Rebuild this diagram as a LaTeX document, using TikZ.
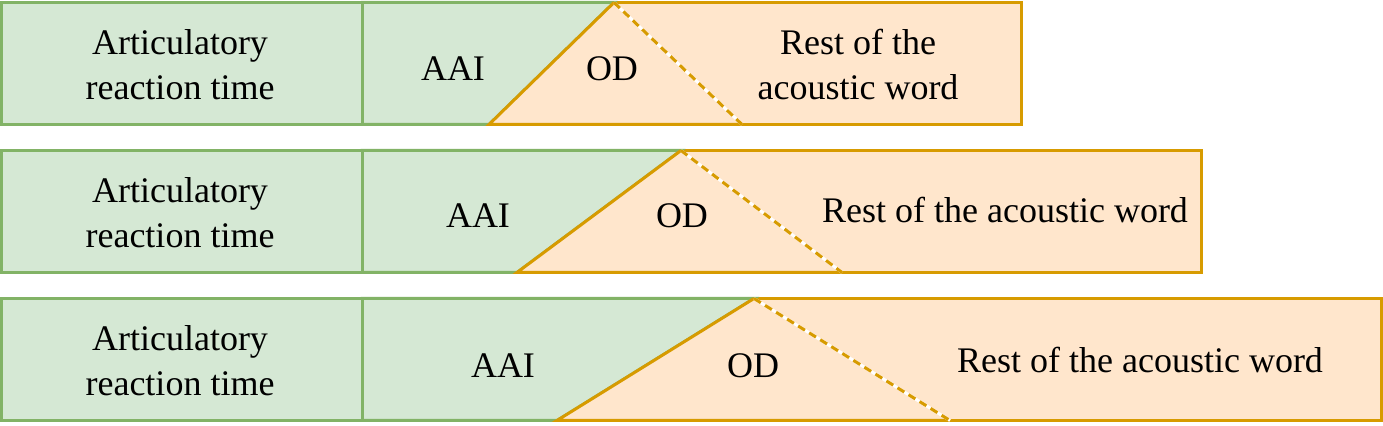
\documentclass[tikz,border=0pt]{standalone}
\usepackage{fontspec}
\setmainfont{Liberation Serif}
\definecolor{greenfill}{HTML}{D5E8D4}
\definecolor{greenline}{HTML}{82B366}
\definecolor{orangefill}{HTML}{FFE6CC}
\definecolor{orangeline}{HTML}{D79B00}

\begin{document}
\begin{tikzpicture}[x=0.5pt,y=-0.5pt,line width=1.5pt,
  green part/.style={fill=greenfill,draw=greenline},
  orange part/.style={fill=orangefill,draw=orangeline},
  od edge/.style={draw=orangeline,dash pattern=on 4pt off 2.5pt},
  word/.style={font=\fontsize{18}{22.5}\selectfont,align=center,inner sep=0pt}]

  \useasboundingbox (0,0) rectangle (1383,426);

  % first row
  \coordinate (apex1) at (614,2.5);
  \coordinate (left1) at (489,124.5);
  \coordinate (right1) at (742,124.5);
  \draw[orange part] (apex1) rectangle (1021,124.5);
  \draw[green part] (362,2.5) -- (apex1) -- (left1) -- (362,124.5) -- cycle;
  \draw[green part] (1.5,2.5) rectangle (362,124.5);
  \fill[orangefill] (apex1) -- (left1) -- (right1) -- cycle;
  \draw[orangeline] (apex1) -- (left1) -- (right1);
  \draw[white] (apex1) -- (right1);
  \draw[od edge] (apex1) -- (right1);

  \node[word] (art1)  at (180,64.5) {Articulatory\\reaction time};
  \node[word] (aai1)  at (453,69) {AAI};
  \node[word] (od1)   at (612,69) {OD};
  \node[word] (rest1) at (858,64.5) {Rest of the\\acoustic word};

  % second row
  \coordinate (apex2) at (681,150.5);
  \coordinate (left2) at (517,272.5);
  \coordinate (right2) at (842,272.5);
  \draw[orange part] (apex2) rectangle (1201,272.5);
  \draw[green part] (362,150.5) -- (apex2) -- (left2) -- (362,272.5) -- cycle;
  \draw[green part] (1.5,150.5) rectangle (362,272.5);
  \fill[orangefill] (apex2) -- (left2) -- (right2) -- cycle;
  \draw[orangeline] (apex2) -- (left2) -- (right2);
  \draw[white] (apex2) -- (right2);
  \draw[od edge] (apex2) -- (right2);

  \node[word] (art2)  at (180,212.5) {Articulatory\\reaction time};
  \node[word] (aai2)  at (478,216) {AAI};
  \node[word] (od2)   at (682,216) {OD};
  \node[word] (rest2) at (1005,210) {Rest of the acoustic word};

  % third row
  \coordinate (apex3) at (754,298.5);
  \coordinate (left3) at (557,420.5);
  \coordinate (right3) at (950,420.5);
  \draw[orange part] (apex3) rectangle (1381,420.5);
  \draw[green part] (362,298.5) -- (apex3) -- (left3) -- (362,420.5) -- cycle;
  \draw[green part] (1.5,298.5) rectangle (362,420.5);
  \fill[orangefill] (apex3) -- (left3) -- (right3) -- cycle;
  \draw[orangeline] (apex3) -- (left3) -- (right3);
  \draw[white] (apex3) -- (right3);
  \draw[od edge] (apex3) -- (right3);

  \node[word] (art3)  at (180,360.5) {Articulatory\\reaction time};
  \node[word] (aai3)  at (503,366) {AAI};
  \node[word] (od3)   at (753,366) {OD};
  \node[word] (rest3) at (1140,360) {Rest of the acoustic word};

\end{tikzpicture}
\end{document}
